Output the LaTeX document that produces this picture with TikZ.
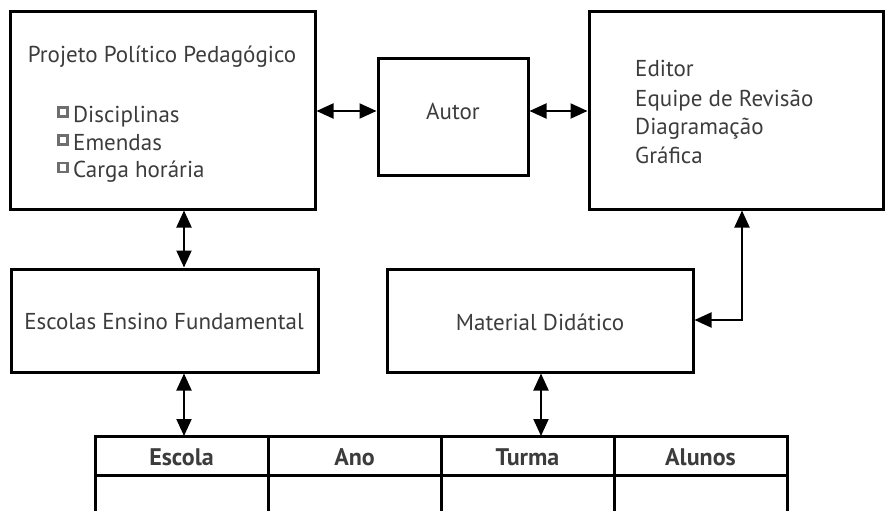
\documentclass[tikz,border=0pt]{standalone}
\usepackage{fontspec}
\setmainfont{PT Sans}
\usetikzlibrary{arrows.meta}
\definecolor{ink}{HTML}{3C3C3C}
\definecolor{bulletgray}{HTML}{6E6E6E}
\tikzset{
  box/.style={draw=black, line width=3pt, rectangle, inner sep=0pt},
  label text/.style={text=ink, font=\fontsize{23}{27}\selectfont, inner sep=0pt},
  head text/.style={text=ink, font=\fontsize{24}{28}\selectfont\bfseries, inner sep=0pt},
  biarrow/.style={line width=2pt, {Triangle[length=17pt,width=15pt]}-{Triangle[length=17pt,width=15pt]}},
  bulletbox/.style={draw=bulletgray, line width=2.2pt, fill=white, minimum size=9pt, inner sep=0pt, rectangle},
  tableline/.style={line width=3pt}
}
\begin{document}
\begin{tikzpicture}[x=1pt, y=-1pt]
  \useasboundingbox (0,0) rectangle (886,511);

  % main boxes
  \node[box, minimum width=305pt, minimum height=197pt] (ppp) at (162.5,110.5) {};
  \node[box, minimum width=150pt, minimum height=116pt] (autor) at (453,117) {};
  \node[box, minimum width=294pt, minimum height=197pt] (editor) at (736,110.5) {};
  \node[box, minimum width=307pt, minimum height=103pt] (escolas) at (164.5,320.5) {};
  \node[box, minimum width=306pt, minimum height=103pt] (material) at (540,320.5) {};

  % texts of the boxes
  \node[label text, anchor=base] (ppptitle) at (162,63) {Projeto Político Pedagógico};
  \node[bulletbox] (b1) at (63,112) {};
  \node[bulletbox] (b2) at (63,140) {};
  \node[bulletbox] (b3) at (63,167.5) {};
  \node[label text, anchor=base west] (disc) at (73,122) {Disciplinas};
  \node[label text, anchor=base west] (emen) at (73,150) {Emendas};
  \node[label text, anchor=base west] (carga) at (73,177.5) {Carga horária};

  \node[label text, anchor=base] (autortxt) at (453,119) {Autor};

  \node[label text, anchor=base west] (ed1) at (635,77) {Editor};
  \node[label text, anchor=base west] (ed2) at (635,106) {Equipe de Revisão};
  \node[label text, anchor=base west] (ed3) at (635,134.5) {Diagramação};
  \node[label text, anchor=base west] (ed4) at (635,163) {Gráfica};

  \node[label text, anchor=base] (esctxt) at (164,329) {Escolas Ensino Fundamental};
  \node[label text, anchor=base] (mattxt) at (540,330) {Material Didático};

  % table header cells
  \node[head text, anchor=base] (hEscola) at (181.5,465) {Escola};
  \node[head text, anchor=base] (hAno) at (354.5,465) {Ano};
  \node[head text, anchor=base] (hTurma) at (527.5,465) {Turma};
  \node[head text, anchor=base] (hAlunos) at (700.5,465) {Alunos};

  % table grid
  \coordinate (tl) at (95,436);
  \coordinate (tr) at (787,436);
  \draw[tableline] (95,513) -- (tl) -- (tr) -- (787,513);
  \draw[tableline] (95,475) -- (787,475);
  \draw[tableline] (268,436) -- (268,513);
  \draw[tableline] (441,436) -- (441,513);
  \draw[tableline] (614,436) -- (614,513);

  % connectors
  \draw[biarrow] (ppp.east |- 0,111) -- (autor.west |- 0,111);
  \draw[biarrow] (autor.east |- 0,111) -- (editor.west |- 0,111);
  \draw[biarrow] (ppp.south -| 184,0) -- (escolas.north -| 184,0);
  \draw[biarrow] (escolas.south -| 184,0) -- (tl -| 184,0);
  \draw[biarrow] (material.south -| 541,0) -- (tl -| 541,0);
  \draw[biarrow] (editor.south -| 742,0) |- (material.east |- 0,320);
\end{tikzpicture}
\end{document}
